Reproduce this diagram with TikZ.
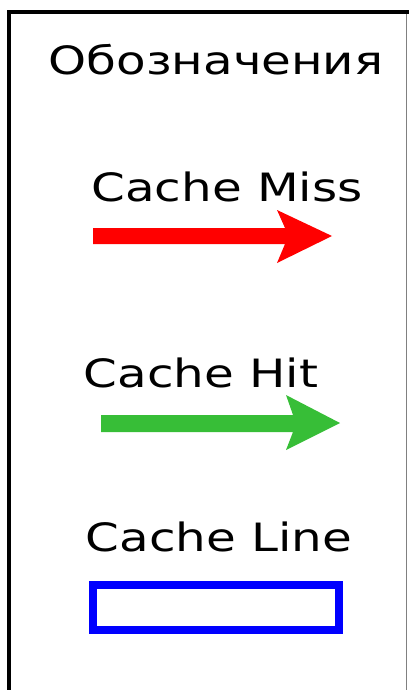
\documentclass[tikz,border=0pt]{standalone}
\usepackage{fontspec}
\usepackage{graphicx}
\setmainfont{DejaVu Sans}
\definecolor{missred}{RGB}{255,0,0}
\definecolor{hitgreen}{RGB}{55,190,55}
\definecolor{lineblue}{RGB}{0,0,255}
\tikzset{
  lbl/.style={anchor=base, inner sep=0pt, font=\fontsize{39}{44}\selectfont},
}
\newcommand{\wide}[1]{\scalebox{1.24}[1]{#1}}
\begin{document}
\begin{tikzpicture}[x=1pt,y=-1pt]
\useasboundingbox (0,0) rectangle (408,690);
% frame
\draw[black, line width=4pt] (8.5,690) -- (8.5,12) -- (410,12);
\draw[gray, line width=1pt] (406,14) -- (406,690);
% title
\node[lbl] (title) at (216,75) {\wide{Обозначения}};
% cache miss
\node[lbl] (miss) at (227,201) {\wide{Cache Miss}};
\fill[missred] (93,228) -- (285,228) -- (277,210) -- (332,236) -- (277,263) -- (285,244) -- (93,244) -- cycle;
% cache hit
\node[lbl] (hit) at (201,387) {\wide{Cache Hit}};
\fill[hitgreen] (101,415) -- (293,415) -- (286,395) -- (340,423) -- (286,450) -- (293,432) -- (101,432) -- cycle;
% cache line
\node[lbl] (cline) at (219,551) {\wide{Cache Line}};
\draw[lineblue, line width=8pt] (92.5,584.5) rectangle (339,630);
\end{tikzpicture}
\end{document}
